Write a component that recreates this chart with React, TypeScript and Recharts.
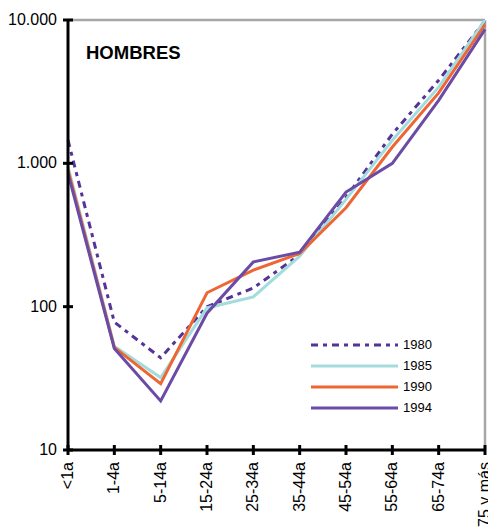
import React from "react";
import { LineChart, Line, XAxis, YAxis, ReferenceLine, Legend } from "recharts";

const categories = ["<1a", "1-4a", "5-14a", "15-24a", "25-34a", "35-44a", "45-54a", "55-64a", "65-74a", "75 y más"];
const s1980 = [1450, 78, 44, 100, 135, 230, 580, 1600, 3800, 9900];
const s1985 = [950, 53, 32, 98, 117, 225, 560, 1450, 3400, 10000];
const s1990 = [900, 52, 29, 125, 180, 235, 490, 1300, 3100, 9300];
const s1994 = [850, 51, 22, 90, 205, 240, 630, 1000, 2750, 8600];
const yTicks = [10, 100, 1000, 10000];
const title = "HOMBRES";

const seriesDefs = [
  { key: "1980", values: s1980, color: "#553399", dash: "7 5 4 5" },
  { key: "1985", values: s1985, color: "#a3dcdc", dash: undefined },
  { key: "1990", values: s1990, color: "#ee6633", dash: undefined },
  { key: "1994", values: s1994, color: "#6a4ca6", dash: undefined },
];

const data = categories.map((c, i) => {
  const row: any = { cat: c };
  seriesDefs.forEach((s) => (row[s.key] = s.values[i]));
  return row;
});

const FONT = "'Liberation Sans', Arial, sans-serif";

const fmt = (v: number) => v.toLocaleString("de-DE");

const YTick = (props: any) => {
  const { x, y, payload } = props;
  return (
    <g>
      <line x1={x - 5} x2={x + 5} y1={y} y2={y} stroke="#000" strokeWidth={3} />
      <text x={x - 11} y={y} dy={5} textAnchor="end" fontSize={16} fill="#000" fontFamily={FONT}>
        {fmt(payload.value)}
      </text>
    </g>
  );
};

const XTick = (props: any) => {
  const { x, y, payload } = props;
  return (
    <g>
      <line x1={x} x2={x} y1={y - 5} y2={y + 5} stroke="#000" strokeWidth={3} />
      <text
        transform={`translate(${x + 5},${y + 12}) rotate(-90)`}
        textAnchor="end"
        fontSize={16}
        fill="#000"
        fontFamily={FONT}
      >
        {payload.value}
      </text>
    </g>
  );
};

const renderLegend = () => (
  <svg width={180} height={90} style={{ display: "block" }}>
    {seriesDefs.map((s, i) => {
      const y = 12 + i * 21;
      return (
        <g key={s.key}>
          <line x1={6} x2={93} y1={y} y2={y} stroke={s.color} strokeWidth={3} strokeDasharray={s.dash} />
          <text x={98} y={y + 4} fontSize={13} fill="#000" fontFamily={FONT}>
            {s.key}
          </text>
        </g>
      );
    })}
  </svg>
);

export default function App() {
  return (
    <div style={{ position: "absolute", left: 0, top: 0, width: 488, height: 528 }}>
      <LineChart width={488} height={528} data={data} margin={{ top: 20, right: 3, left: 0, bottom: 0 }}>
        <ReferenceLine y={10000} stroke="#a6a6a6" strokeWidth={2.5} />
        <ReferenceLine x="75 y más" stroke="#a6a6a6" strokeWidth={2.5} />
        <XAxis
          dataKey="cat"
          height={78}
          interval={0}
          tickSize={0}
          tickMargin={0}
          tick={<XTick />}
          axisLine={{ stroke: "#000", strokeWidth: 3 }}
          tickLine={false}
        />
        <YAxis
          type="number"
          scale="log"
          domain={[10, 10000]}
          ticks={yTicks}
          allowDataOverflow
          width={68}
          tickSize={0}
          tickMargin={0}
          tick={<YTick />}
          axisLine={{ stroke: "#000", strokeWidth: 3 }}
          tickLine={false}
        />
        {seriesDefs.map((s) => (
          <Line
            key={s.key}
            dataKey={s.key}
            stroke={s.color}
            strokeWidth={3}
            strokeDasharray={s.dash}
            dot={false}
            activeDot={false}
            isAnimationActive={false}
          />
        ))}
        <Legend
          layout="horizontal"
          verticalAlign="middle"
          content={renderLegend}
          wrapperStyle={{ left: 305, top: 333, width: 180, height: 90 }}
        />
      </LineChart>
      <svg width={488} height={80} style={{ position: "absolute", left: 0, top: 0, pointerEvents: "none" }}>
        <text x={86} y={59} fontSize={18.5} fontWeight="bold" fill="#000" fontFamily={FONT}>
          {title}
        </text>
      </svg>
    </div>
  );
}
